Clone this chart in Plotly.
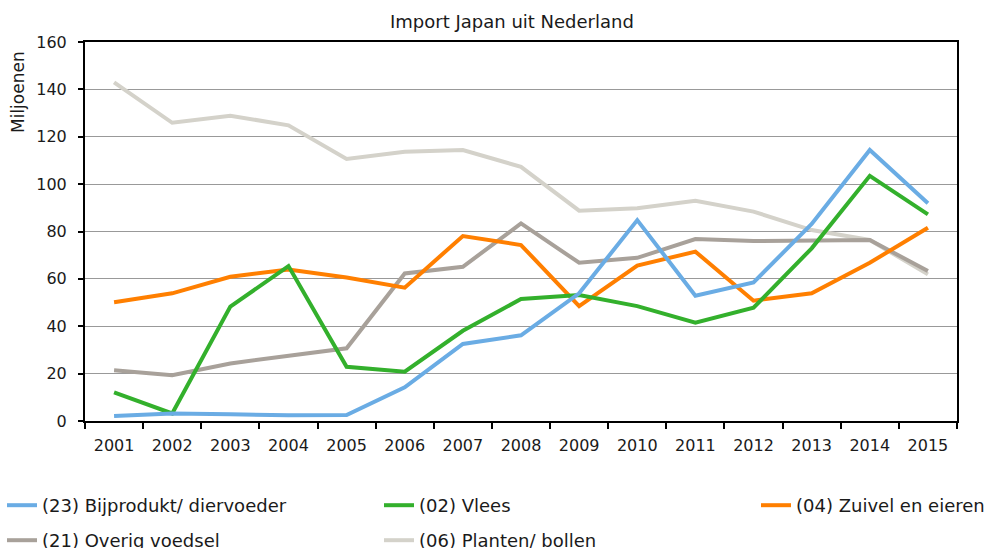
import plotly.graph_objects as go

years = [str(y) for y in range(2001, 2016)]

bijprodukt = [2.1, 3.2, 2.8, 2.4, 2.5, 14.2, 32.5, 36.2, 53.9, 84.8, 52.9, 58.5, 83.2, 114.4, 91.9]
vlees = [12.1, 3.2, 48.3, 65.4, 22.9, 20.8, 38.1, 51.5, 53.2, 48.5, 41.5, 47.8, 72.9, 103.5, 87.2]
zuivel = [50.1, 53.9, 60.9, 64.0, 60.6, 56.3, 78.1, 74.3, 48.5, 65.6, 71.5, 50.8, 53.9, 66.8, 81.6]
overig = [21.4, 19.3, 24.3, 27.4, 30.7, 62.3, 65.1, 83.4, 66.8, 68.9, 76.8, 76.0, 76.0, 76.4, 63.3]
planten = [143.0, 125.9, 128.9, 124.8, 110.6, 113.7, 114.4, 107.3, 88.8, 89.8, 93.0, 88.4, 80.6, 76.4, 61.9]

W, H = 988, 548
L, R, T, B = 85, 31, 42, 127

# legend slots: (legend id, text left edge px, row centre px)
series = [
    ("(06) Planten/ bollen", planten, "#d4d2ca", "legend5", 420, 540),
    ("(21) Overig voedsel", overig, "#a8a19a", "legend4", 43, 540),
    ("(04) Zuivel en eieren", zuivel, "#ff7f00", "legend3", 797, 505),
    ("(02) Vlees", vlees, "#33b02c", "legend2", 420, 505),
    ("(23) Bijprodukt/ diervoeder", bijprodukt, "#6aace4", "legend", 43, 505),
]

font_main = "DejaVu Sans, Verdana, sans-serif"

fig = go.Figure()
legends = {}
for name, vals, col, leg, tx, ty in series:
    fig.add_trace(go.Scatter(
        x=years, y=vals, name=name, mode="lines",
        line=dict(color=col, width=4), legend=leg,
    ))
    legends[leg] = dict(
        xref="container", yref="container",
        x=max(tx - 41, 0) / W, y=1 - (ty - 18) / H,
        xanchor="left", yanchor="top", orientation="v",
        font=dict(size=18, family=font_main, color="#1a1a1a"),
        bgcolor="rgba(0,0,0,0)", borderwidth=0,
    )

fig.update_layout(
    width=W, height=H,
    margin=dict(l=L, r=R, t=T, b=B, autoexpand=False),
    paper_bgcolor="white", plot_bgcolor="white",
    font=dict(family=font_main, size=16, color="#1a1a1a"),
    showlegend=True,
    xaxis=dict(
        type="category", range=[-0.5, 14.5], tickson="boundaries",
        ticks="outside", ticklen=6, tickcolor="black", tickwidth=1.5,
        showline=True, linecolor="black", linewidth=2, mirror=True,
        showgrid=False, ticklabelstandoff=9,
        tickfont=dict(size=16, family=font_main),
    ),
    yaxis=dict(
        range=[0, 160], dtick=20, ticks="outside", ticklen=5, tickcolor="black",
        tickwidth=1.5, showline=True, linecolor="black", linewidth=2, mirror=True,
        showgrid=True, gridcolor="#999999", gridwidth=1.2, zeroline=False,
        ticklabelstandoff=8,
        tickfont=dict(size=16, family=font_main),
    ),
    annotations=[
        dict(text="Import Japan uit Nederland", xref="paper", yref="paper",
             x=(512 - L) / (W - L - R), y=1, yshift=21, xanchor="center",
             yanchor="middle", showarrow=False,
             font=dict(size=18, family=font_main)),
        dict(text="Miljoenen", xref="paper", yref="paper",
             x=0, xshift=-67, y=(421 - 92) / (421 - 42), xanchor="center",
             yanchor="middle", showarrow=False,
             textangle=-90, font=dict(size=17, family=font_main)),
    ],
    **legends,
)

fig.write_html("out.html")
